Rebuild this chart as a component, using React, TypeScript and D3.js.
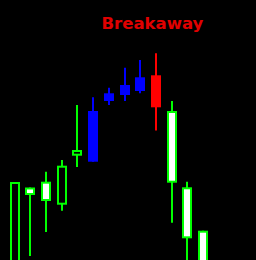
import React from "react";
import * as d3 from "d3";

const W = 256;
const H = 260;

// price units (arbitrary)
const opens = [-5, 72.5, 78.3, 55.3, 104.3, 98.3, 159, 165, 169, 184.7, 149, 72.7, 29.3];
const closes = [78, 65, 59, 94.3, 110, 149, 166.7, 175, 182.7, 152.7, 77.3, 21.7, -5];
const highs = [78, 72.5, 88.3, 100, 155, 162.7, 172.3, 192.3, 200, 206.7, 159, 78.3, 29.3];
const lows = [-5, 4, 28, 49.3, 93, 98.3, 155, 159, 166.7, 129.5, 37.3, -5, -5];
const inPattern = [false, false, false, false, false, true, true, true, true, true, false, false, false];
const title = "Breakaway";

export default function App() {
  const x = d3.scaleLinear().domain([0, 12]).range([14.5, 203.2]);
  const y = d3.scaleLinear().domain([0, 260]).range([260, 0]);
  const green = "#00ff00";

  return (
    <svg
      width={W}
      height={H}
      style={{ position: "absolute", left: 0, top: 0, display: "block", background: "#000" }}
    >
      <rect x={0} y={0} width={W} height={H} fill="#000" />
      {opens.map((o, i) => {
        const c = closes[i];
        const cx = Math.round(x(i));
        const bull = c > o;
        const top = y(Math.max(o, c));
        const bot = y(Math.min(o, c));
        if (inPattern[i]) {
          const col = bull ? "#0000ff" : "#ff0000";
          return (
            <g key={i}>
              <line x1={cx} x2={cx} y1={y(highs[i])} y2={y(lows[i])} stroke={col} strokeWidth={2} />
              <rect x={cx - 5} y={top} width={10} height={bot - top} fill={col} />
            </g>
          );
        }
        return (
          <g key={i}>
            <line x1={cx} x2={cx} y1={y(highs[i])} y2={y(lows[i])} stroke={green} strokeWidth={2} />
            <rect
              x={cx - 4}
              y={top + 1}
              width={8}
              height={Math.max(bot - top - 2, 1)}
              fill={bull ? "#000" : "#fff"}
              stroke={green}
              strokeWidth={2}
            />
          </g>
        );
      })}
      <text
        x={101.5}
        y={29}
        fill="#e00000"
        fontFamily="DejaVu Sans"
        fontWeight="bold"
        fontSize={16.5}
      >
        {title}
      </text>
    </svg>
  );
}
